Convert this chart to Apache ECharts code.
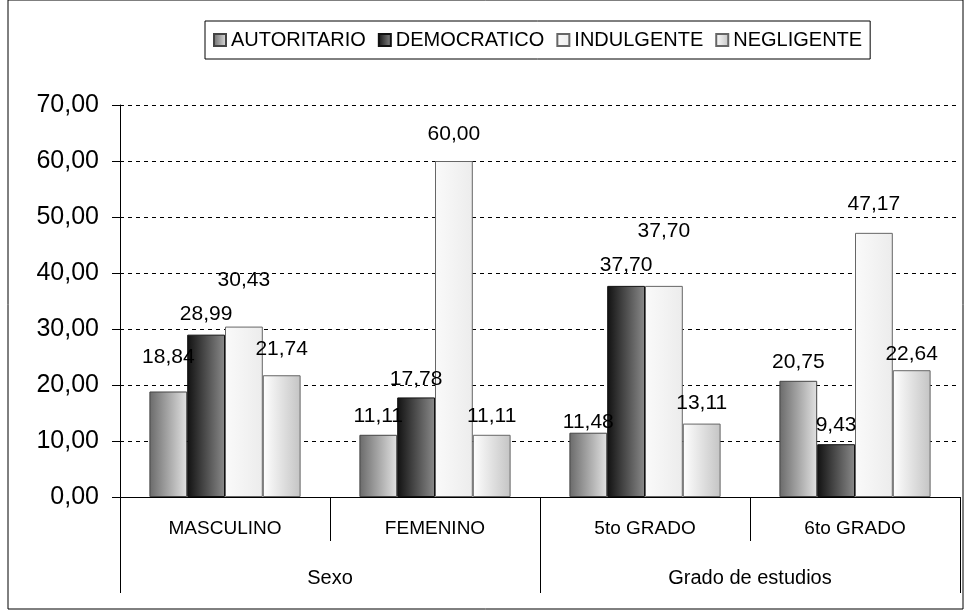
<!DOCTYPE html>
<html>
<head>
<meta charset="utf-8">
<script src="https://cdn.jsdelivr.net/npm/echarts@6/dist/echarts.min.js"></script>
<style>
  html, body { margin: 0; padding: 0; background: #fff; }
  #chart { width: 966px; height: 611px; }
</style>
</head>
<body>
<div id="chart"></div>
<script>
// categories (two levels)
const categories = ['MASCULINO', 'FEMENINO', '5to GRADO', '6to GRADO'];
const groups = ['Sexo', 'Grado de estudios'];
const seriesNames = ['AUTORITARIO', 'DEMOCRATICO', 'INDULGENTE', 'NEGLIGENTE'];

// percentages per series
const autoritario = [18.84, 11.11, 11.48, 20.75];
const democratico = [28.99, 17.78, 37.70, 9.43];
const indulgente = [30.43, 60.00, 37.70, 47.17];
const negligente = [21.74, 11.11, 13.11, 22.64];

// label gap above each bar (px), as staggered in the original
const labelGaps = [
    [24, 8, 0, 8],
    [10, 8, 10, 8],
    [36, 16, 44, 18],
    [16, 8, 10, 6]
];

const font = 'Liberation Sans, Arial, sans-serif';

function grad(a, b) {
    return new echarts.graphic.LinearGradient(0, 0, 1, 0, [
        { offset: 0, color: a },
        { offset: 1, color: b }
    ]);
}

const styles = [
    { color: grad('#6a6a6a', '#e2e2e2'), borderColor: '#444', borderWidth: 1 },
    { color: grad('#111111', '#8a8a8a'), borderColor: '#111', borderWidth: 1 },
    { color: grad('#fafafa', '#ececec'), borderColor: '#666', borderWidth: 1 },
    { color: grad('#ffffff', '#c4c4c4'), borderColor: '#666', borderWidth: 1 }
];

const fmt = v => v.toFixed(2).replace('.', ',');

const chart = echarts.init(document.getElementById('chart'));

const option = {
    animation: false,
    textStyle: { fontFamily: font },
    graphic: [{
        type: 'rect',
        shape: { x: 8, y: 0, width: 955, height: 609 },
        style: { fill: 'none', stroke: '#000', lineWidth: 1 }
    }],
    legend: {
        data: seriesNames,
        icon: 'rect',
        left: 205,
        top: 21,
        padding: [9, 8],
        itemGap: 12,
        itemWidth: 12,
        itemHeight: 12,
        borderColor: '#000',
        borderWidth: 1,
        textStyle: { fontSize: 20, color: '#000', fontFamily: font }
    },
    grid: { left: 120, right: 6, top: 105, bottom: 114, containLabel: false },
    xAxis: [{
        type: 'category',
        data: categories,
        axisLine: { show: true, lineStyle: { color: '#000', width: 1 } },
        axisTick: { show: true, interval: 0, length: 44, lineStyle: { color: '#000' } },
        axisLabel: { margin: 22, fontSize: 19, color: '#000', fontFamily: font }
    }, {
        type: 'category',
        data: groups,
        position: 'bottom',
        axisLine: { show: false },
        axisTick: { show: true, interval: 0, length: 96, lineStyle: { color: '#000' } },
        axisLabel: { margin: 71, fontSize: 20, color: '#000', fontFamily: font }
    }],
    yAxis: {
        type: 'value',
        min: 0,
        max: 70,
        interval: 10,
        axisLine: { show: true, lineStyle: { color: '#000' } },
        axisTick: { show: true, length: 8, lineStyle: { color: '#000' } },
        axisLabel: { formatter: fmt, fontSize: 25, color: '#000', margin: 21, fontFamily: font },
        splitLine: { lineStyle: { color: '#000', type: [4, 4], width: 1 } }
    },
    series: [autoritario, democratico, indulgente, negligente].map((vals, i) => ({
        name: seriesNames[i],
        type: 'bar',
        data: vals.map((v, j) => ({ value: v, label: { distance: labelGaps[i][j] } })),
        barGap: '0%',
        barCategoryGap: '28%',
        itemStyle: styles[i],
        label: {
            show: true,
            position: 'top',
            formatter: p => fmt(p.value),
            fontSize: 21,
            color: '#000',
            fontFamily: font
        }
    }))
};

chart.setOption(option);
</script>
</body>
</html>
